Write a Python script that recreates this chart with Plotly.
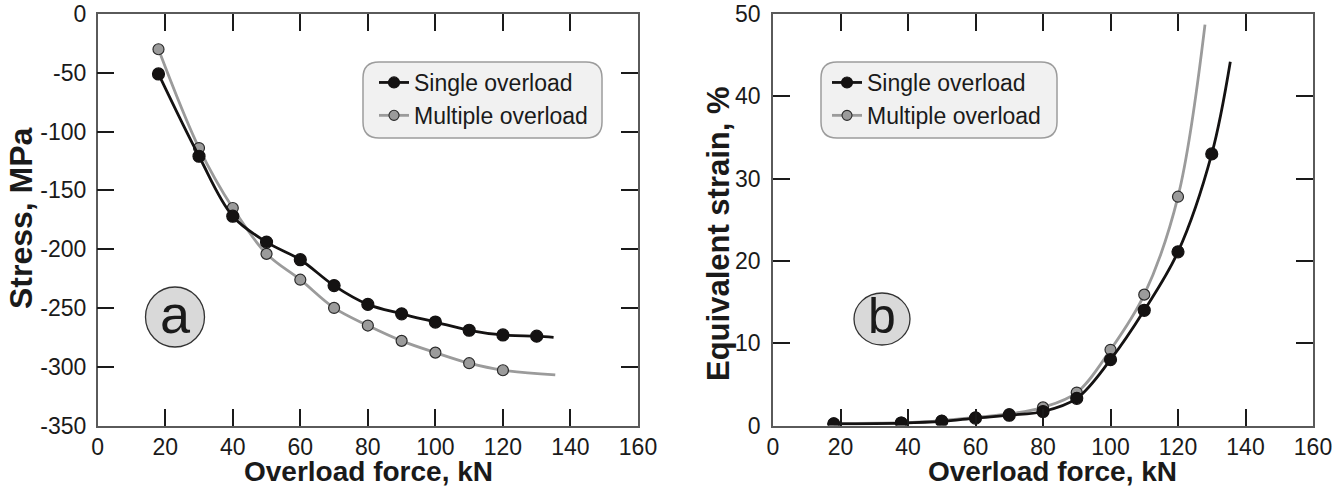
import plotly.graph_objects as go

# ---- data -------------------------------------------------------------
# (a) residual stress vs overload force
force_a_single = [18, 30, 40, 50, 60, 70, 80, 90, 100, 110, 120, 130]
stress_single = [-51, -121, -172, -194, -209, -231, -247, -255, -262, -269, -273, -274]
force_a_multi = [18, 30, 40, 50, 60, 70, 80, 90, 100, 110, 120]
stress_multi = [-30, -114, -165, -204, -226, -250, -265, -278, -288, -297, -303]
# end of the fitted curves beyond the last measurement
fit_end_a_single = (135, -275)
fit_end_a_multi = (135.5, -307)

# (b) equivalent strain vs overload force
force_b_single = [18, 38, 50, 60, 70, 80, 90, 100, 110, 120, 130]
strain_single = [0.2, 0.3, 0.5, 0.9, 1.25, 1.7, 3.3, 8.0, 14.0, 21.1, 33.0]
force_b_multi = [18, 38, 50, 60, 70, 80, 90, 100, 110, 120]
strain_multi = [0.25, 0.35, 0.6, 1.0, 1.4, 2.2, 4.0, 9.2, 15.9, 27.8]
fit_end_b_single = (135.5, 44.2)
fit_end_b_multi = (128, 48.7)

x_ticks = [0, 20, 40, 60, 80, 100, 120, 140, 160]
stress_ticks = [0, -50, -100, -150, -200, -250, -300, -350]
strain_ticks = [0, 10, 20, 30, 40, 50]

# ---- page geometry (pixels) --------------------------------------------
W, H = 1338, 489
FONT = "Liberation Sans, Arial, sans-serif"
INK = "#1a1a1a"
BLACK_S = "#141212"
GREY_S = "#9b9b9b"


def px(x):
    return x / W


def py(y):
    return 1 - y / H


def rounded_box(x0, y0, x1, y1, r):
    pts = [
        ("M", x0 + r, y0), ("L", x1 - r, y0), ("Q", x1, y0, x1, y0 + r),
        ("L", x1, y1 - r), ("Q", x1, y1, x1 - r, y1), ("L", x0 + r, y1),
        ("Q", x0, y1, x0, y1 - r), ("L", x0, y0 + r), ("Q", x0, y0, x0 + r, y0),
    ]
    out = []
    for p in pts:
        cmd, vals = p[0], p[1:]
        coords = []
        for i in range(0, len(vals), 2):
            coords.append(f"{px(vals[i]):.5f},{py(vals[i + 1]):.5f}")
        out.append(cmd + " " + " ".join(coords))
    return " ".join(out) + " Z"


def series(xs, ys, end, name, colour, edge, size, xaxis, yaxis, legend, rank):
    n = len(xs)
    return go.Scatter(
        x=list(xs) + [end[0]],
        y=list(ys) + [end[1]],
        name=name,
        mode="lines+markers",
        line=dict(color=colour, width=2.8, shape="spline", smoothing=1.0),
        marker=dict(
            color=colour,
            opacity=1,
            size=[size] * n + [0],
            line=dict(color=edge, width=[1.2] * n + [0]),
        ),
        xaxis=xaxis,
        yaxis=yaxis,
        legend=legend,
        legendrank=rank,
        hoverinfo="x+y",
    )


fig = go.Figure()

# grey first so the black series sits on top where they overlap
fig.add_trace(series(force_a_multi, stress_multi, fit_end_a_multi, "Multiple overload",
                     GREY_S, "#2a2a2a", 11, "x", "y", "legend", 2))
fig.add_trace(series(force_a_single, stress_single, fit_end_a_single, "Single overload",
                     BLACK_S, BLACK_S, 12, "x", "y", "legend", 1))
fig.add_trace(series(force_b_multi, strain_multi, fit_end_b_multi, "Multiple overload",
                     GREY_S, "#2a2a2a", 11, "x2", "y2", "legend2", 2))
fig.add_trace(series(force_b_single, strain_single, fit_end_b_single, "Single overload",
                     BLACK_S, BLACK_S, 12, "x2", "y2", "legend2", 1))

Y_DOM = [py(425.5), py(14)]
TICKFONT = dict(family=FONT, size=23, color=INK)


def frame_axis(domain, rng, ticks, anchor, standoff):
    return dict(
        domain=domain,
        range=rng,
        anchor=anchor,
        automargin=False,
        tickmode="array",
        tickvals=ticks,
        ticktext=[str(t) for t in ticks],
        ticks="inside",
        ticklen=0,
        tickfont=TICKFONT,
        ticklabelstandoff=standoff,
        minor=dict(tickmode="array", tickvals=ticks[1:-1], ticks="inside",
                   ticklen=17, tickwidth=2, tickcolor=INK, showgrid=False),
        showline=True,
        linecolor="#5a5a5a",
        linewidth=1.5,
        mirror="ticks",
        showgrid=False,
        zeroline=False,
        fixedrange=True,
    )


def legend_box(x_left):
    return dict(
        x=px(x_left), y=py(61), xanchor="left", yanchor="top",
        bgcolor="rgba(0,0,0,0)", borderwidth=0,
        font=dict(family=FONT, size=23, color=INK),
        itemwidth=30, tracegroupgap=0,
    )


fig.update_layout(
    width=W,
    height=H,
    margin=dict(l=0, r=0, t=0, b=0),
    paper_bgcolor="white",
    plot_bgcolor="white",
    font=dict(family=FONT, color=INK),
    xaxis=frame_axis([px(97.7), px(638)], [0, 160], x_ticks, "y", 0),
    yaxis=frame_axis(Y_DOM, [-350, 0], stress_ticks, "x", 5),
    xaxis2=frame_axis([px(773), px(1313)], [0, 160], x_ticks, "y2", 0),
    yaxis2=frame_axis(Y_DOM, [0, 50], strain_ticks, "x2", 6),
    legend=legend_box(374),
    legend2=legend_box(827),
    showlegend=True,
)

# axis titles (x titles sit on the bottom edge of the page)
titles = [
    ("Overload force, kN", 368, 489, 0, 28, "bottom"),
    ("Stress, MPa", 21, 218, -90, 32, "middle"),
    ("Overload force, kN", 1052, 489, 0, 28, "bottom"),
    ("Equivalent strain, %", 718, 234, -90, 31, "middle"),
]
for text, tx, ty, ang, fs, ya in titles:
    fig.add_annotation(text=text, xref="paper", yref="paper", x=px(tx), y=py(ty),
                       xanchor="center", yanchor=ya, textangle=ang, showarrow=False,
                       font=dict(family=FONT, size=fs, color=INK, weight="bold"))

# rounded legend frames
for box in [(363, 62, 602, 138), (821, 62, 1057, 138)]:
    fig.add_shape(type="path", path=rounded_box(*box, 16), xref="paper", yref="paper",
                  fillcolor="#f1f1f1", line=dict(color="#9c9c9c", width=1.5), layer="below")

# panel badges
badges = [
    ("a", 175, 317, 29.5, 30, 54),
    ("b", 882, 319, 28, 26, 50),
]
for letter, cx, cy, rx, ry, fs in badges:
    fig.add_shape(type="circle", xref="paper", yref="paper",
                  x0=px(cx - rx), x1=px(cx + rx), y0=py(cy + ry), y1=py(cy - ry),
                  fillcolor="#d9d9d9", line=dict(color="#333333", width=1.3))
    fig.add_annotation(text=letter, xref="paper", yref="paper", x=px(cx), y=py(cy - 3),
                       xanchor="center", yanchor="middle", showarrow=False,
                       font=dict(family=FONT, size=fs, color=INK))

fig.write_html("out.html")
